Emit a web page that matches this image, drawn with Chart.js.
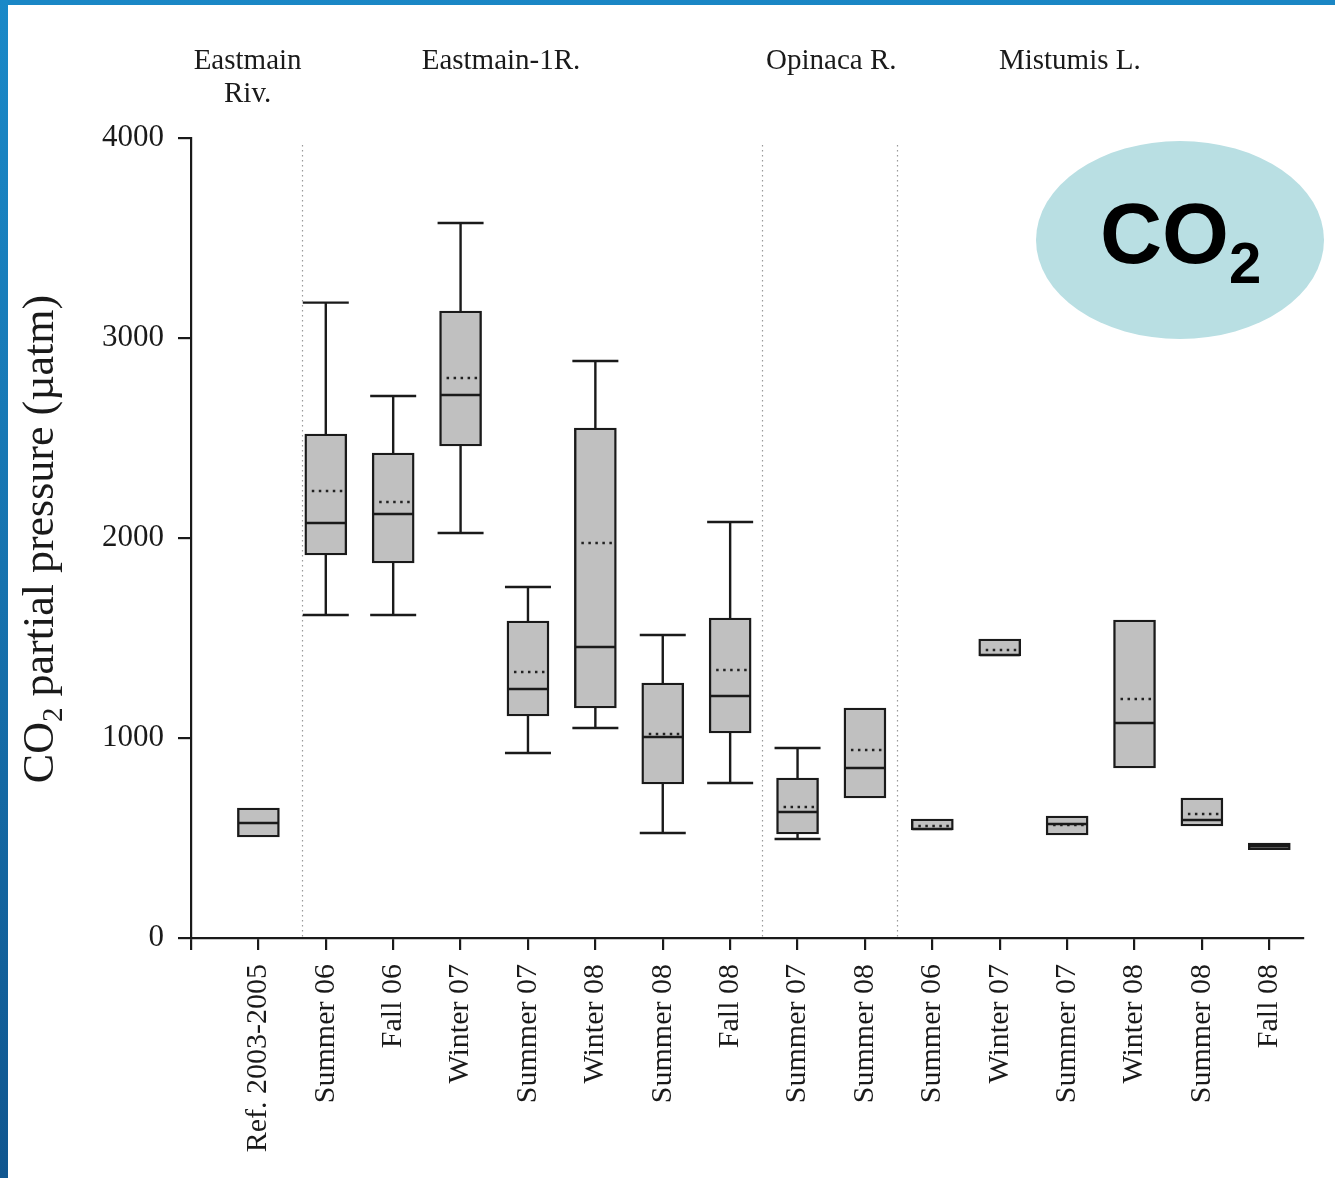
<!DOCTYPE html>
<html>
<head>
<meta charset="utf-8">
<title>CO2 partial pressure</title>
<script src="https://cdn.jsdelivr.net/npm/chart.js@4/dist/chart.umd.min.js"></script>
<style>
  html, body { margin: 0; padding: 0; background: #ffffff; }
  #wrap { position: relative; width: 1335px; height: 1178px; overflow: hidden; }
  #chart { position: absolute; left: 0; top: 0; }
  .frame-top { position: absolute; left: 0; top: 0; width: 1335px; height: 5px;
    background: linear-gradient(90deg, #1a87c6, #1a86c4); }
  .frame-left { position: absolute; left: 0; top: 0; width: 8px; height: 1178px;
    background: linear-gradient(180deg, #1a89c8 0%, #1672ae 50%, #10568f 100%); }
</style>
</head>
<body>
<div id="wrap">
  <canvas id="chart" width="1335" height="1178"></canvas>
  <div class="frame-top"></div>
  <div class="frame-left"></div>
</div>
<script>
// Sampling campaigns (one box per campaign)
const categories = ['Ref. 2003-2005', 'Summer 06', 'Fall 06', 'Winter 07', 'Summer 07',
  'Winter 08', 'Summer 08', 'Fall 08', 'Summer 07', 'Summer 08', 'Summer 06',
  'Winter 07', 'Summer 07', 'Winter 08', 'Summer 08', 'Fall 08'];

// Box statistics, pCO2 in µatm (null = not shown)
const whiskerLow  = [null, 1615, 1615, 2025,  925, 1050,  525,  775,  495, null, null, null, null, null, null, null];
const q1          = [ 505, 1915, 1875, 2460, 1110, 1150,  770, 1025,  520,  700,  540, 1410,  515,  850,  560,  442];
const median      = [ 575, 2075, 2120, 2715, 1245, 1455, 1005, 1210,  630,  850,  545, 1415,  570, 1075,  590,  460];
const mean        = [null, 2235, 2180, 2800, 1330, 1975, 1020, 1340,  655,  940,  560, 1440,  565, 1195,  620, null];
const q3          = [ 650, 2520, 2425, 3135, 1585, 2550, 1275, 1600,  800, 1150,  595, 1495,  610, 1590,  700,  475];
const whiskerHigh = [null, 3177, 2710, 3575, 1755, 2885, 1515, 2080,  950, null, null, null, null, null, null, null];

// Site groups shown above the plot
const groupNames = [['Eastmain', 'Riv.'], ['Eastmain-1R.'], ['Opinaca R.'], ['Mistumis L.']];
const groupCenters = [-0.16, 3.6, 8.5, 12.04];
// Dotted separators between site groups (x in category units)
const separators = [0.65, 7.47, 9.48];

const yTicks = [0, 1000, 2000, 3000, 4000];

const SERIF = '"Liberation Serif", "Times New Roman", serif';
const SANS = '"Liberation Sans", Arial, sans-serif';
const BOX_W = 42;
const CAP_W = 46;

const boxData = categories.map((c, i) => ({ x: i, y: [q1[i], q3[i]] }));

const boxExtras = {
  id: 'boxExtras',
  beforeDatasetsDraw(chart) {
    const { ctx, scales: { x, y }, chartArea } = chart;
    ctx.save();
    // group separators
    ctx.strokeStyle = '#9a9a9a';
    ctx.lineWidth = 1.2;
    ctx.setLineDash([1.5, 3.5]);
    separators.forEach(s => {
      const px = Math.round(x.getPixelForValue(s)) + 0.5;
      ctx.beginPath();
      ctx.moveTo(px, chartArea.top + 7);
      ctx.lineTo(px, chartArea.bottom);
      ctx.stroke();
    });
    ctx.setLineDash([]);
    // whiskers
    ctx.strokeStyle = '#1a1a1a';
    ctx.lineWidth = 2.4;
    categories.forEach((c, i) => {
      const px = x.getPixelForValue(i);
      if (whiskerHigh[i] != null) {
        const yh = y.getPixelForValue(whiskerHigh[i]);
        ctx.beginPath();
        ctx.moveTo(px, y.getPixelForValue(q3[i]));
        ctx.lineTo(px, yh);
        ctx.moveTo(px - CAP_W / 2, yh);
        ctx.lineTo(px + CAP_W / 2, yh);
        ctx.stroke();
      }
      if (whiskerLow[i] != null) {
        const yl = y.getPixelForValue(whiskerLow[i]);
        ctx.beginPath();
        ctx.moveTo(px, y.getPixelForValue(q1[i]));
        ctx.lineTo(px, yl);
        ctx.moveTo(px - CAP_W / 2, yl);
        ctx.lineTo(px + CAP_W / 2, yl);
        ctx.stroke();
      }
    });
    ctx.restore();
  },
  afterDatasetsDraw(chart) {
    const { ctx, scales: { x, y } } = chart;
    ctx.save();
    categories.forEach((c, i) => {
      const px = x.getPixelForValue(i);
      const l = px - BOX_W / 2 + 1, r = px + BOX_W / 2 - 1;
      // mean (dotted)
      if (mean[i] != null) {
        const ym = y.getPixelForValue(mean[i]);
        ctx.strokeStyle = '#222';
        ctx.lineWidth = 2.5;
        ctx.setLineDash([2.5, 4.5]);
        ctx.beginPath();
        ctx.moveTo(l + 6, ym);
        ctx.lineTo(r, ym);
        ctx.stroke();
        ctx.setLineDash([]);
      }
      // median (solid)
      const yMed = y.getPixelForValue(median[i]);
      ctx.strokeStyle = '#1a1a1a';
      ctx.lineWidth = 2.4;
      ctx.beginPath();
      ctx.moveTo(l, yMed);
      ctx.lineTo(r, yMed);
      ctx.stroke();
    });
    ctx.restore();
  },
  afterDraw(chart) {
    const { ctx, scales: { x } } = chart;
    ctx.save();
    // site group headers
    ctx.fillStyle = '#1a1a1a';
    ctx.font = '29px ' + SERIF;
    ctx.textAlign = 'center';
    ctx.textBaseline = 'alphabetic';
    groupNames.forEach((lines, g) => {
      const px = x.getPixelForValue(groupCenters[g]);
      lines.forEach((t, k) => ctx.fillText(t, px, 69 + k * 33));
    });

    // y axis title with subscript
    ctx.translate(53, 539);
    ctx.rotate(-Math.PI / 2);
    const big = '44px ' + SERIF, small = '29px ' + SERIF;
    const p1 = 'CO', p2 = '2', p3 = ' partial pressure (µatm)';
    ctx.font = big; const w1 = ctx.measureText(p1).width, w3 = ctx.measureText(p3).width;
    ctx.font = small; const w2 = ctx.measureText(p2).width;
    let cx = -(w1 + w2 + w3) / 2;
    ctx.textAlign = 'left';
    ctx.font = big; ctx.fillText(p1, cx, 0); cx += w1;
    ctx.font = small; ctx.fillText(p2, cx, 9); cx += w2;
    ctx.font = big; ctx.fillText(p3, cx, 0);
    ctx.setTransform(1, 0, 0, 1, 0, 0);

    // CO2 badge
    ctx.fillStyle = '#b9dfe3';
    ctx.beginPath();
    ctx.ellipse(1180, 240, 144, 99, 0, 0, Math.PI * 2);
    ctx.fill();
    ctx.fillStyle = '#000';
    ctx.textAlign = 'left';
    ctx.font = 'bold 86px ' + SANS;
    ctx.fillText('CO', 1100, 263);
    const wc = ctx.measureText('CO').width;
    ctx.font = 'bold 58px ' + SANS;
    ctx.fillText('2', 1100 + wc, 283);
    ctx.restore();
  }
};

new Chart(document.getElementById('chart'), {
  type: 'bar',
  data: {
    datasets: [{
      label: 'pCO2',
      data: boxData,
      backgroundColor: '#c0c0c0',
      borderColor: '#1a1a1a',
      borderWidth: 2.4,
      borderSkipped: false,
      barThickness: BOX_W
    }]
  },
  options: {
    responsive: false,
    animation: false,
    events: [],
    layout: { padding: { left: 0, top: 138, right: 32, bottom: 0 } },
    plugins: { legend: { display: false }, tooltip: { enabled: false } },
    scales: {
      x: {
        type: 'linear',
        offset: false,
        min: -1,
        max: 15.5,
        afterBuildTicks(scale) {
          scale.ticks = [-1].concat(categories.map((c, i) => i)).map(v => ({ value: v }));
        },
        afterFit(scale) { scale.height = 240; },
        border: { display: true, color: '#1a1a1a', width: 2.2 },
        grid: { offset: false, drawOnChartArea: false, drawTicks: true, tickLength: 12, color: '#1a1a1a', lineWidth: 2.2 },
        ticks: {
          autoSkip: false,
          minRotation: 90,
          maxRotation: 90,
          padding: 14,
          color: '#1a1a1a',
          font: { family: SERIF, size: 30 },
          callback: v => (v >= 0 && categories[v] !== undefined ? categories[v] : '')
        }
      },
      y: {
        min: 0,
        max: 4000,
        afterBuildTicks(scale) { scale.ticks = yTicks.map(v => ({ value: v })); },
        afterFit(scale) { scale.width = 191; },
        border: { display: true, color: '#1a1a1a', width: 2.2 },
        grid: { drawOnChartArea: false, drawTicks: true, tickLength: 13, color: '#1a1a1a', lineWidth: 2.2 },
        ticks: {
          padding: 14,
          color: '#1a1a1a',
          font: { family: SERIF, size: 31 },
          callback: v => String(v)
        }
      }
    }
  },
  plugins: [boxExtras]
});
</script>
</body>
</html>
